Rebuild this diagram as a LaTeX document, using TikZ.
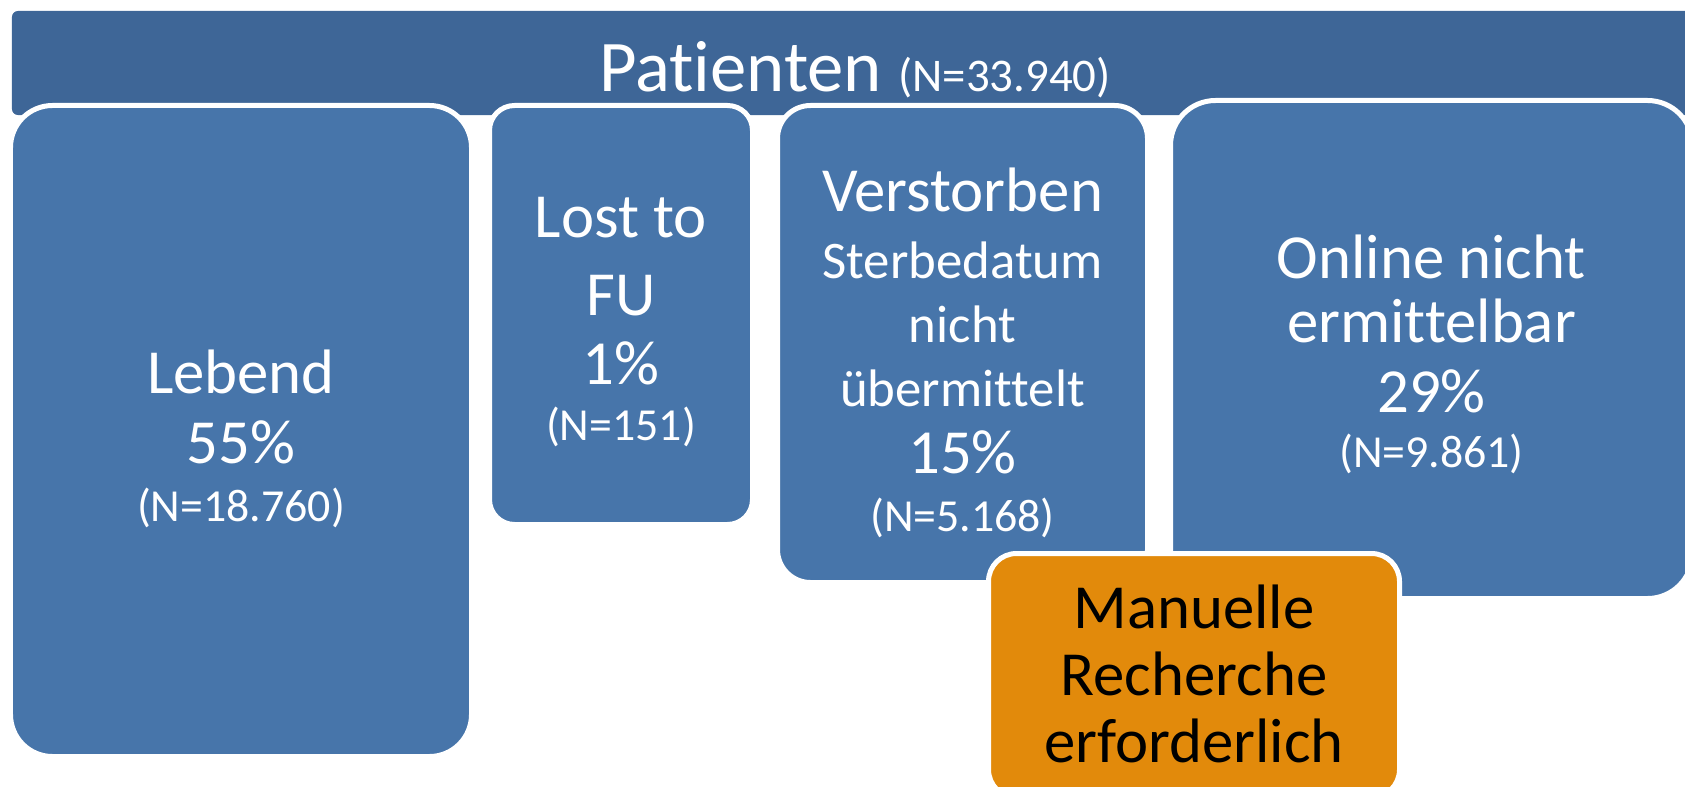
\documentclass[tikz,border=0pt]{standalone}
\usepackage{fontspec}
\setmainfont{Carlito}[Ligatures=NoCommon]
\usepackage{tikz}
\usetikzlibrary{positioning}

\definecolor{headblue}{RGB}{62,102,151}
\definecolor{groupblue}{RGB}{71,117,170}
\definecolor{manualorange}{RGB}{226,138,11}

\newcommand{\bigtxt}{\fontsize{63}{70}\selectfont}
\newcommand{\midtxt}{\fontsize{53}{65}\selectfont}
\newcommand{\ntxt}{\fontsize{46}{57}\selectfont}

\begin{document}
\begin{tikzpicture}[x=1bp, y=-1bp,
    header/.style={rectangle, rounded corners=6bp, fill=headblue, inner sep=0pt, outer sep=0pt},
    group/.style={rectangle, draw=white, line width=5bp, fill=groupblue, inner sep=0pt},
    manual/.style={group, fill=manualorange, rounded corners=28bp},
    grouptxt/.style={text=white, align=center, inner sep=0pt, font=\bigtxt},
    manualtxt/.style={grouptxt, text=black},
]
\useasboundingbox (0,0) rectangle (1685,787);

% Draw the header
\node[header, minimum width=1686bp, minimum height=104bp] (patients) at (855,63) {};
\node[grouptxt] (patientstxt) at (855,70)
    {{\fontsize{73}{80}\selectfont Patienten }{\fontsize{47}{50}\selectfont (N=33.940)}};

% Draw the groups
\node[group, rounded corners=42bp, minimum width=461bp, minimum height=651bp] (alive) at (241,431) {};
\node[group, rounded corners=25bp, minimum width=263bp, minimum height=419bp] (lost) at (621,315) {};
\node[group, rounded corners=33bp, minimum width=370bp, minimum height=477bp] (dead) at (962.5,344) {};
\node[group, rounded corners=45bp, minimum width=522bp, minimum height=498bp] (unknown) at (1431.5,349.5) {};
\node[manual, minimum width=411bp, minimum height=244bp] (manual) at (1194,675.5) {};

\node[grouptxt] (alivetxt) at (241,439) {Lebend\\ 55\%\\[-12bp] \ntxt (N=18.760)};
\node[grouptxt] (losttxt) at (621,322) {Lost to\\[8bp] FU\\ 1\%\\[-14bp] \ntxt (N=151)};
\node[grouptxt] (deadtxt) at (962.5,353) {Verstorben\\[-3bp] \midtxt Sterbedatum\\[-5bp] \midtxt nicht\\[-6bp]
    \midtxt übermittelt\\[-3bp] 15\%\\[-11bp] \ntxt (N=5.168)};
\node[grouptxt] (unknowntxt) at (1431.5,354) {Online nicht\\[-5bp] ermittelbar\\ 29\%\\[-15bp] \ntxt (N=9.861)};
\node[manualtxt] (manualtxt) at (1194,674) {Manuelle\\[-3bp] Recherche\\[-3bp] erforderlich};

\end{tikzpicture}
\end{document}
